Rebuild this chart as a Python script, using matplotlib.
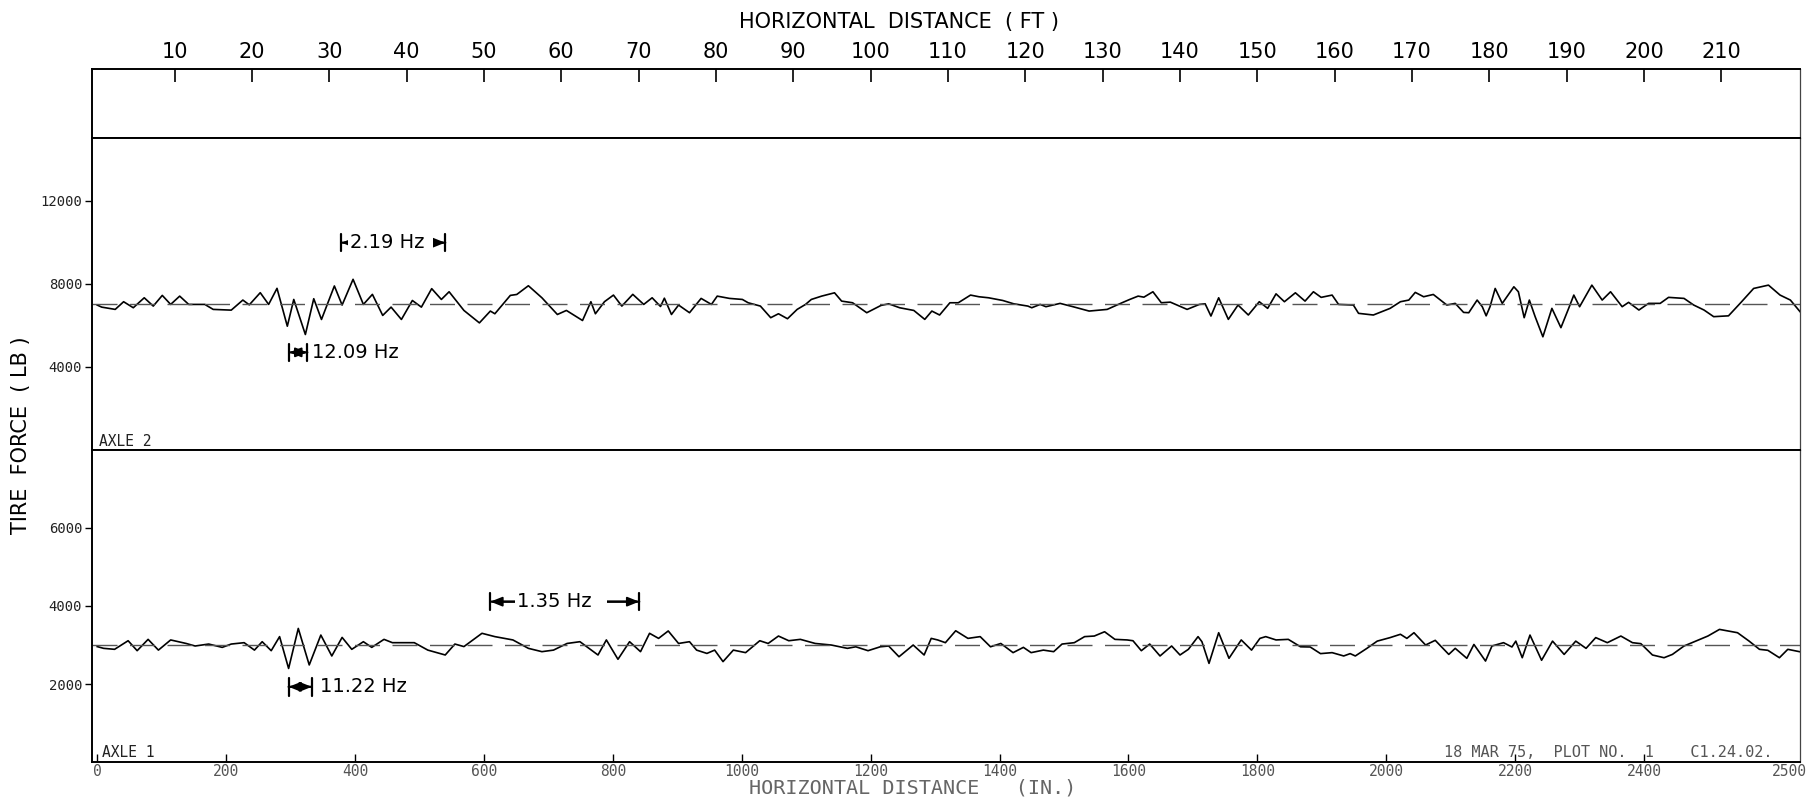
import numpy as np
import matplotlib
matplotlib.use("Agg")
import matplotlib.pyplot as plt

# horizontal distance in inches, tire force in lb
axle2_x = [0, 7, 28, 41, 56, 73, 87, 101, 114, 128, 142, 167, 180, 208, 226, 236, 253, 266, 279, 295,
           305, 323, 336, 348, 368, 380, 397, 413, 427, 443, 456, 472, 489, 503, 519, 534, 546, 569, 593, 610,
           617, 641, 651, 669, 690, 714, 728, 753, 766, 773, 787, 801, 814, 831, 848, 861, 874, 880, 891, 902,
           919, 937, 953, 962, 981, 1001, 1010, 1029, 1045, 1057, 1071, 1086, 1099, 1108, 1124, 1144, 1155, 1172, 1194, 1216,
           1228, 1245, 1267, 1284, 1295, 1307, 1323, 1336, 1355, 1368, 1383, 1405, 1422, 1444, 1450, 1463, 1472, 1494, 1514, 1539,
           1567, 1590, 1602, 1615, 1624, 1638, 1651, 1665, 1691, 1710, 1719, 1728, 1740, 1755, 1770, 1786, 1803, 1816, 1829, 1842,
           1859, 1874, 1887, 1899, 1916, 1926, 1949, 1957, 1980, 2006, 2022, 2035, 2045, 2058, 2073, 2094, 2107, 2120, 2128, 2141,
           2149, 2155, 2161, 2169, 2180, 2198, 2205, 2214, 2222, 2231, 2243, 2257, 2271, 2283, 2291, 2300, 2319, 2335, 2348, 2366,
           2376, 2392, 2407, 2425, 2438, 2462, 2477, 2493, 2508, 2531, 2549, 2570, 2593, 2611, 2627, 2642]
axle2_lb = [6970, 6870, 6760, 7130, 6840, 7320, 6920, 7435, 7000, 7400, 7000, 7000, 6760, 6725, 7210, 6980, 7565, 7000, 7775, 5950,
            7240, 5550, 7275, 6275, 7890, 6970, 8210, 7000, 7485, 6470, 6870, 6275, 7190, 6870, 7760, 7240, 7610, 6710, 6110, 6680,
            6550, 7435, 7480, 7900, 7320, 6515, 6710, 6225, 7130, 6550, 7130, 7450, 6920, 7485, 7000, 7320, 6900, 7300, 6515, 6970,
            6600, 7290, 7000, 7400, 7290, 7240, 7080, 6920, 6360, 6550, 6310, 6760, 7000, 7240, 7400, 7560, 7160, 7080, 6600, 6950,
            7030, 6840, 6710, 6280, 6680, 6490, 7080, 7080, 7450, 7370, 7320, 7190, 7030, 6920, 6840, 7000, 6890, 7050, 6890, 6680,
            6760, 7080, 7240, 7400, 7350, 7610, 7080, 7110, 6760, 7000, 7030, 6440, 7320, 6280, 6970, 6490, 7130, 6810, 7510, 7130,
            7560, 7160, 7610, 7340, 7450, 7000, 6970, 6570, 6490, 6810, 7130, 7210, 7580, 7370, 7480, 6970, 7050, 6615, 6600, 7210,
            6890, 6450, 6890, 7770, 7050, 7850, 7610, 6360, 7210, 6410, 5440, 6810, 5880, 6810, 7450, 6890, 7930, 7210, 7610, 6890,
            7100, 6730, 7050, 7050, 7340, 7290, 6970, 6730, 6410, 6450, 7050, 7770, 7930, 7450, 7210, 6650]

axle1_x = [0, 10, 27, 48, 62, 79, 95, 114, 138, 152, 173, 194, 208, 228, 244, 256, 270, 283, 297, 312,
           329, 347, 364, 380, 395, 413, 426, 445, 458, 492, 513, 540, 555, 569, 597, 617, 645, 669, 690, 708,
           729, 749, 777, 790, 808, 826, 843, 857, 871, 886, 902, 919, 930, 946, 958, 971, 987, 1006, 1028, 1041,
           1057, 1073, 1091, 1114, 1139, 1164, 1177, 1196, 1215, 1228, 1244, 1266, 1283, 1294, 1304, 1316, 1332, 1351, 1370, 1386,
           1402, 1421, 1437, 1449, 1468, 1484, 1497, 1516, 1532, 1547, 1563, 1579, 1598, 1607, 1620, 1633, 1649, 1667, 1680, 1693,
           1708, 1714, 1725, 1740, 1756, 1775, 1791, 1804, 1813, 1829, 1848, 1867, 1882, 1898, 1916, 1934, 1944, 1952, 1970, 1986,
           2006, 2022, 2032, 2043, 2061, 2076, 2097, 2107, 2125, 2136, 2154, 2164, 2182, 2195, 2201, 2211, 2223, 2241, 2258, 2276,
           2294, 2310, 2325, 2343, 2364, 2382, 2395, 2413, 2431, 2444, 2462, 2480, 2499, 2517, 2530, 2545, 2563, 2579, 2592, 2610,
           2623, 2641]
axle1_lb = [2960, 2915, 2890, 3110, 2855, 3145, 2870, 3130, 3040, 2975, 3025, 2940, 3025, 3060, 2870, 3085, 2855, 3215, 2400, 3425,
            2490, 3255, 2720, 3195, 2890, 3085, 2940, 3145, 3060, 3060, 2870, 2745, 3025, 2960, 3300, 3215, 3130, 2915, 2830, 2870,
            3040, 3085, 2745, 3130, 2635, 3085, 2830, 3300, 3170, 3360, 3040, 3085, 2870, 2785, 2870, 2575, 2870, 2805, 3110, 3040,
            3230, 3110, 3145, 3040, 3000, 2915, 2955, 2855, 2955, 2975, 2700, 3000, 2745, 3170, 3130, 3060, 3365, 3170, 3215, 2955,
            3040, 2805, 2940, 2805, 2870, 2830, 3025, 3060, 3215, 3230, 3340, 3145, 3130, 3110, 2855, 3025, 2720, 2975, 2745, 2890,
            3215, 3085, 2530, 3315, 2660, 3130, 2870, 3170, 3215, 3130, 3145, 2955, 2950, 2780, 2805, 2720, 2780, 2720, 2915, 3100,
            3190, 3275, 3170, 3315, 3000, 3120, 2760, 2915, 2660, 3015, 2590, 2975, 3060, 2950, 3100, 2675, 3255, 2610, 3100, 2760,
            3100, 2915, 3190, 3060, 3230, 3060, 3035, 2745, 2675, 2760, 2975, 3100, 3230, 3400, 3360, 3315, 3100, 2890, 2865, 2675,
            2890, 2830]

axle2_mean = 7000
axle1_mean = 3000

ft_ticks = list(range(10, 211, 10))
in_ticks = list(range(0, 2401, 200))
axle2_yticks = [4000, 8000, 12000]
axle1_yticks = [2000, 4000, 6000]

# frequency spans: (start in, end in, force lb, label, label start in)
axle2_spans = [(379, 540, 9975, "2.19 Hz ", 392),
               (298, 326, 4690, "12.09 Hz", 334)]
axle1_spans = [(610, 841, 4110, "1.35 Hz  ", 652),
               (297, 333, 1930, "11.22 Hz", 346)]

X_MIN, X_MAX = -8, 2642
MONO = "DejaVu Sans Mono"

fig = plt.figure(figsize=(18.08, 8.01), dpi=100)
left, width = 0.0509, 0.9447
ax_ft = fig.add_axes([left, 0.8272, width, 0.0864])
ax2 = fig.add_axes([left, 0.4386, width, 0.3886])
ax1 = fig.add_axes([left, 0.0484, width, 0.3902])

for ax in (ax_ft, ax2, ax1):
    ax.set_xlim(X_MIN, X_MAX)
    for side in ("top", "bottom", "left"):
        ax.spines[side].set_linewidth(1.4)
        ax.spines[side].set_color("black")
    ax.spines["right"].set_linewidth(0.9)
    ax.spines["right"].set_color("#444444")

# feet scale on top
ax_ft.set_yticks([])
ax_ft.set_xticks([f * 12 for f in ft_ticks])
ax_ft.set_xticklabels([str(f) for f in ft_ticks])
ax_ft.tick_params(axis="x", top=True, bottom=False, labeltop=True, labelbottom=False,
                  direction="in", length=9.5, width=1.2, pad=5, labelsize=15)

# axle 2
ax2.plot(axle2_x, axle2_lb, color="black", lw=1.2, solid_joinstyle="round")
ax2.axhline(axle2_mean, color="#555555", lw=1.0, ls=(0, (18, 9)))
ax2.set_ylim(0, 15000)
ax2.set_yticks(axle2_yticks)
ax2.set_yticklabels([str(v) for v in axle2_yticks], family=MONO, fontsize=10, color="#222222")
ax2.set_xticks([])
ax2.tick_params(axis="y", direction="out", length=5, width=1, pad=2)
ax2.text(0.004, 0.025, "AXLE 2", transform=ax2.transAxes, family=MONO, fontsize=10.5,
         va="center", ha="left", color="#222222")

# axle 1
ax1.plot(axle1_x, axle1_lb, color="black", lw=1.2, solid_joinstyle="round")
ax1.axhline(axle1_mean, color="#555555", lw=1.0, ls=(0, (18, 9)))
ax1.set_ylim(0, 8000)
ax1.set_yticks(axle1_yticks)
ax1.set_yticklabels([str(v) for v in axle1_yticks], family=MONO, fontsize=10, color="#222222")
ax1.tick_params(axis="y", direction="out", length=5, width=1, pad=2)
ax1.set_xticks(in_ticks)
ax1.set_xticklabels([str(v) for v in in_ticks], family=MONO, fontsize=10.5, color="#555555")
ax1.tick_params(axis="x", direction="in", length=6, width=1, pad=1)
ax1.text(0.994, -0.006, "2500", transform=ax1.transAxes, family=MONO, fontsize=10.5,
         color="#555555", ha="center", va="top")
ax1.text(0.006, 0.03, "AXLE 1", transform=ax1.transAxes, family=MONO, fontsize=10.5,
         va="center", ha="left", color="#222222")
ax1.text(0.984, 0.03, "18 MAR 75,  PLOT NO.  1    C1.24.02.", transform=ax1.transAxes,
         family=MONO, fontsize=11, va="center", ha="right", color="#555555")


def draw_span(ax, x0, x1, y, label, tx):
    ax.annotate("", xy=(x0, y), xytext=(x1, y), zorder=5,
                arrowprops=dict(arrowstyle="|-|,widthA=0.45,widthB=0.45", lw=1.6, color="black",
                                shrinkA=0, shrinkB=0, mutation_scale=14))
    ax.annotate("", xy=(x0, y), xytext=(x1, y), zorder=5,
                arrowprops=dict(arrowstyle="<|-|>,head_length=0.5,head_width=0.2", lw=1.4,
                                color="black", shrinkA=0, shrinkB=0, mutation_scale=14))
    ax.text(tx, y, label, ha="left", va="center", fontsize=14, zorder=6,
            bbox=dict(fc="white", ec="none", pad=1.5))


for s in axle2_spans:
    draw_span(ax2, *s)
for s in axle1_spans:
    draw_span(ax1, *s)

fig.text(0.497, 0.973, "HORIZONTAL  DISTANCE  ( FT )", ha="center", va="center", fontsize=15)
fig.text(0.0116, 0.457, "TIRE  FORCE  ( LB )", rotation=90, ha="center", va="center", fontsize=15)
fig.text(0.414, 0.004, "HORIZONTAL DISTANCE   (IN.)", ha="left", va="bottom",
         family=MONO, fontsize=14.5, color="#666666")

fig.savefig("out.png", dpi=100)
